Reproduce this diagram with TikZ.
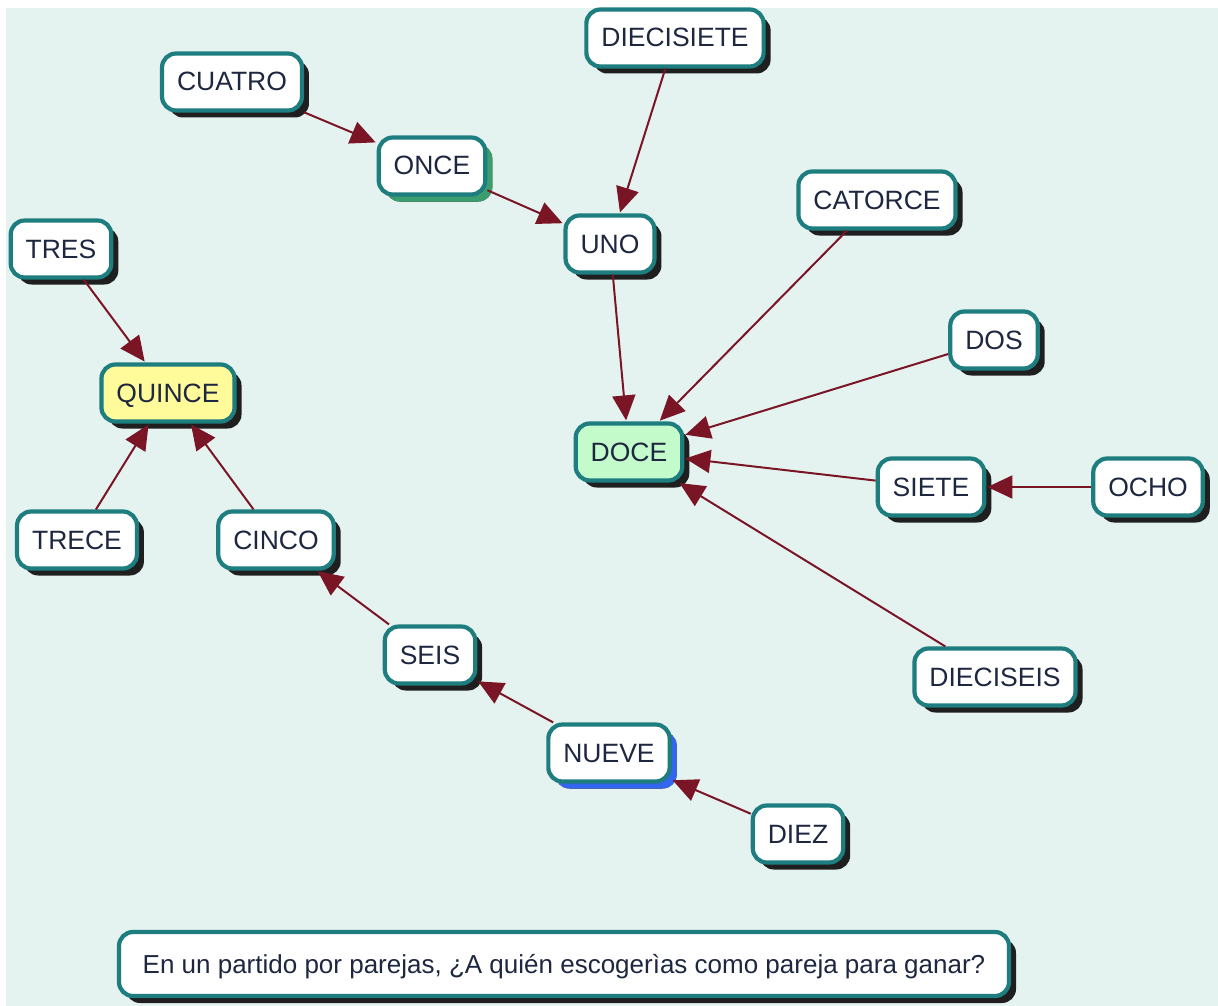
\documentclass[tikz,border=0pt]{standalone}
\usepackage{fontspec}
\setmainfont{Liberation Sans}
\usetikzlibrary{arrows.meta,shadows}
\definecolor{bgc}{HTML}{E5F3F0}
\definecolor{teal2}{HTML}{1E7D7E}
\definecolor{txt}{HTML}{1E2740}
\definecolor{arr}{HTML}{7A1526}
\definecolor{yel}{HTML}{FFFB9A}
\definecolor{grn}{HTML}{C3FBCB}
\definecolor{gsh}{HTML}{3A9E6E}
\definecolor{bsh}{HTML}{3366EE}
\tikzset{
  concept/.style={draw=teal2, line width=4.2pt, rounded corners=14pt, fill=white,
    text=txt, font=\fontsize{26.5}{30}\selectfont, inner xsep=15pt,
    minimum height=57pt, text height=19pt, text depth=1pt,
    drop shadow={shadow xshift=7pt, shadow yshift=-7pt, fill=black!88, opacity=1}},
  link/.style={draw=arr, line width=2pt, -{Triangle[length=25pt,width=23pt]}, shorten >=1pt}
}
\begin{document}
\begin{tikzpicture}[x=1pt,y=-1pt]
\useasboundingbox (0,0) rectangle (1218,1006);
\fill[white] (0,0) rectangle (1218,1006);
\fill[bgc] (6,8) rectangle (1218,1006);
\node[concept] (cuatro) at (232,82) {CUATRO};
\node[concept] (diecisiete) at (675,38) {DIECISIETE};
\node[concept, drop shadow={shadow xshift=7pt, shadow yshift=-7pt, fill=gsh, opacity=1}] (once) at (432,166) {ONCE};
\node[concept] (uno) at (610,244) {UNO};
\node[concept] (catorce) at (877,200) {CATORCE};
\node[concept] (tres) at (61,249) {TRES};
\node[concept, fill=yel] (quince) at (168,393) {QUINCE};
\node[concept] (dos) at (994,340) {DOS};
\node[concept, fill=grn] (doce) at (629,452) {DOCE};
\node[concept] (siete) at (931,487) {SIETE};
\node[concept] (ocho) at (1148,487) {OCHO};
\node[concept] (trece) at (77,540) {TRECE};
\node[concept] (cinco) at (276,540) {CINCO};
\node[concept] (seis) at (430,655) {SEIS};
\node[concept] (dieciseis) at (995,677) {DIECISEIS};
\node[concept, drop shadow={shadow xshift=7pt, shadow yshift=-7pt, fill=bsh, opacity=1}] (nueve) at (609,753) {NUEVE};
\node[concept] (diez) at (798,834) {DIEZ};
\node[concept, minimum width=890pt, minimum height=64pt, font=\fontsize{26}{30}\selectfont] (pregunta) at (564,964) {En un partido por parejas, ¿A quién escogerìas como pareja para ganar?};
\draw[link] (cuatro) -- (once);
\draw[link] (once) -- (uno);
\draw[link] (diecisiete) -- (uno);
\draw[link] (uno) -- (doce);
\draw[link] (catorce) -- (doce);
\draw[link] (dos) -- (doce);
\draw[link] (siete) -- (doce);
\draw[link] (ocho) -- (siete);
\draw[link] (dieciseis) -- (doce);
\draw[link] (tres) -- (quince);
\draw[link] (trece) -- (quince);
\draw[link] (cinco) -- (quince);
\draw[link] (seis) -- (cinco);
\draw[link] (nueve) -- (seis);
\draw[link] (diez) -- (nueve);
\end{tikzpicture}
\end{document}
